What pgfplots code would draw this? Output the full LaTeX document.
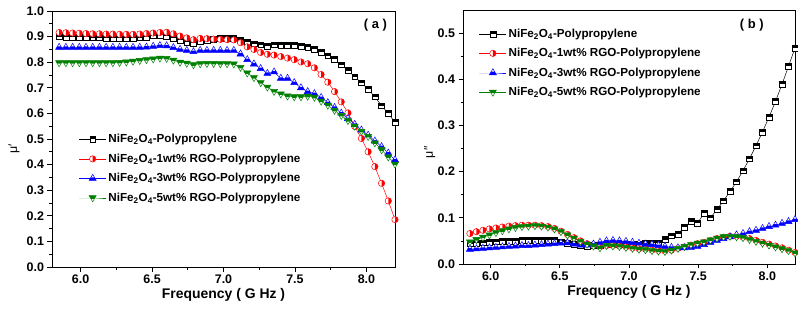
\documentclass[border=0pt]{standalone}
\usepackage{pgfplots}
\pgfplotsset{compat=1.18}
\usepackage{pgfplotstable}
\usepackage{fontspec}
\setmainfont{Liberation Sans}

\definecolor{cblack}{RGB}{0,0,0}
\definecolor{cred}{RGB}{255,0,0}
\definecolor{cblue}{RGB}{0,0,255}
\definecolor{cgreen}{RGB}{0,128,0}

% half-filled marks
\pgfdeclareplotmark{hsq}{%
  \begin{pgfscope}\pgfsetfillcolor{white}%
  \pgfpathrectangle{\pgfqpoint{-\pgfplotmarksize}{-\pgfplotmarksize}}{\pgfqpoint{2\pgfplotmarksize}{2\pgfplotmarksize}}\pgfusepathqfill\end{pgfscope}%
  \pgfpathrectangle{\pgfqpoint{-\pgfplotmarksize}{0pt}}{\pgfqpoint{2\pgfplotmarksize}{\pgfplotmarksize}}\pgfusepathqfill
  \pgfpathrectangle{\pgfqpoint{-\pgfplotmarksize}{-\pgfplotmarksize}}{\pgfqpoint{2\pgfplotmarksize}{2\pgfplotmarksize}}\pgfusepathqstroke
}
\pgfdeclareplotmark{hcirc}{%
  \begin{pgfscope}\pgfsetfillcolor{white}%
  \pgfpathcircle{\pgfpointorigin}{\pgfplotmarksize}\pgfusepathqfill\end{pgfscope}%
  \pgfpathmoveto{\pgfqpoint{0pt}{\pgfplotmarksize}}%
  \pgfpatharc{90}{-90}{\pgfplotmarksize}%
  \pgfpathclose\pgfusepathqfill
  \pgfpathcircle{\pgfpointorigin}{\pgfplotmarksize}\pgfusepathqstroke
}
\pgfdeclareplotmark{htri}{%
  \begin{pgfscope}\pgfsetfillcolor{white}%
  \pgfpathmoveto{\pgfqpoint{0pt}{1.4\pgfplotmarksize}}%
  \pgfpathlineto{\pgfqpoint{-1.2124\pgfplotmarksize}{-0.7\pgfplotmarksize}}%
  \pgfpathlineto{\pgfqpoint{1.2124\pgfplotmarksize}{-0.7\pgfplotmarksize}}%
  \pgfpathclose\pgfusepathqfill\end{pgfscope}%
  \pgfpathmoveto{\pgfqpoint{-1.2124\pgfplotmarksize}{-0.7\pgfplotmarksize}}%
  \pgfpathlineto{\pgfqpoint{1.2124\pgfplotmarksize}{-0.7\pgfplotmarksize}}%
  \pgfpathlineto{\pgfqpoint{0.6062\pgfplotmarksize}{0.35\pgfplotmarksize}}%
  \pgfpathlineto{\pgfqpoint{-0.6062\pgfplotmarksize}{0.35\pgfplotmarksize}}%
  \pgfpathclose\pgfusepathqfill
  \pgfpathmoveto{\pgfqpoint{0pt}{1.4\pgfplotmarksize}}%
  \pgfpathlineto{\pgfqpoint{-1.2124\pgfplotmarksize}{-0.7\pgfplotmarksize}}%
  \pgfpathlineto{\pgfqpoint{1.2124\pgfplotmarksize}{-0.7\pgfplotmarksize}}%
  \pgfpathclose\pgfusepathqstroke
}
\pgfdeclareplotmark{htrid}{%
  \begin{pgfscope}\pgfsetfillcolor{white}%
  \pgfpathmoveto{\pgfqpoint{0pt}{-1.4\pgfplotmarksize}}%
  \pgfpathlineto{\pgfqpoint{-1.2124\pgfplotmarksize}{0.7\pgfplotmarksize}}%
  \pgfpathlineto{\pgfqpoint{1.2124\pgfplotmarksize}{0.7\pgfplotmarksize}}%
  \pgfpathclose\pgfusepathqfill\end{pgfscope}%
  \pgfpathmoveto{\pgfqpoint{-1.2124\pgfplotmarksize}{0.7\pgfplotmarksize}}%
  \pgfpathlineto{\pgfqpoint{1.2124\pgfplotmarksize}{0.7\pgfplotmarksize}}%
  \pgfpathlineto{\pgfqpoint{0.6062\pgfplotmarksize}{-0.35\pgfplotmarksize}}%
  \pgfpathlineto{\pgfqpoint{-0.6062\pgfplotmarksize}{-0.35\pgfplotmarksize}}%
  \pgfpathclose\pgfusepathqfill
  \pgfpathmoveto{\pgfqpoint{0pt}{-1.4\pgfplotmarksize}}%
  \pgfpathlineto{\pgfqpoint{-1.2124\pgfplotmarksize}{0.7\pgfplotmarksize}}%
  \pgfpathlineto{\pgfqpoint{1.2124\pgfplotmarksize}{0.7\pgfplotmarksize}}%
  \pgfpathclose\pgfusepathqstroke
}

% mu' : f, NiFe2O4-PP, 1wt%, 3wt%, 5wt%
\pgfplotstableread{
f a b c d
5.850 0.900 0.916 0.858 0.798
5.897 0.899 0.915 0.858 0.798
5.944 0.898 0.914 0.858 0.798
5.991 0.897 0.913 0.858 0.798
6.038 0.897 0.912 0.858 0.798
6.085 0.896 0.911 0.858 0.798
6.132 0.896 0.911 0.858 0.798
6.179 0.895 0.910 0.858 0.798
6.226 0.895 0.910 0.858 0.798
6.273 0.895 0.909 0.858 0.799
6.320 0.895 0.909 0.858 0.801
6.367 0.895 0.909 0.858 0.804
6.414 0.896 0.910 0.858 0.807
6.461 0.899 0.912 0.859 0.810
6.508 0.903 0.914 0.862 0.813
6.555 0.906 0.916 0.865 0.816
6.602 0.902 0.917 0.864 0.815
6.649 0.894 0.911 0.857 0.808
6.696 0.885 0.902 0.850 0.800
6.743 0.879 0.895 0.846 0.796
6.790 0.874 0.888 0.841 0.790
6.837 0.881 0.893 0.846 0.794
6.884 0.886 0.892 0.846 0.795
6.931 0.890 0.890 0.846 0.795
6.978 0.893 0.889 0.846 0.794
7.025 0.895 0.888 0.846 0.794
7.072 0.893 0.887 0.846 0.793
7.119 0.887 0.876 0.832 0.780
7.166 0.879 0.860 0.810 0.758
7.213 0.872 0.850 0.793 0.740
7.260 0.868 0.838 0.775 0.720
7.307 0.862 0.831 0.756 0.703
7.354 0.868 0.828 0.762 0.686
7.401 0.867 0.822 0.737 0.676
7.448 0.866 0.816 0.737 0.668
7.495 0.866 0.810 0.720 0.665
7.542 0.862 0.801 0.700 0.665
7.589 0.859 0.794 0.685 0.667
7.636 0.852 0.778 0.677 0.663
7.683 0.840 0.752 0.662 0.648
7.730 0.825 0.722 0.642 0.632
7.777 0.811 0.685 0.623 0.612
7.824 0.790 0.645 0.601 0.592
7.871 0.767 0.602 0.580 0.572
7.918 0.743 0.549 0.557 0.550
7.965 0.720 0.502 0.535 0.530
8.012 0.694 0.450 0.515 0.510
8.059 0.665 0.392 0.492 0.485
8.106 0.630 0.327 0.470 0.458
8.153 0.600 0.258 0.445 0.430
8.200 0.565 0.185 0.418 0.402
}\tabA

% mu''
\pgfplotstableread{
f a b c d
5.850 0.044 0.066 0.032 0.048
5.897 0.045 0.070 0.033 0.053
5.944 0.046 0.073 0.034 0.058
5.991 0.047 0.076 0.035 0.063
6.038 0.048 0.078 0.036 0.068
6.085 0.049 0.080 0.037 0.072
6.132 0.050 0.082 0.038 0.076
6.179 0.050 0.083 0.039 0.079
6.226 0.051 0.084 0.040 0.081
6.273 0.051 0.084 0.040 0.082
6.320 0.052 0.084 0.041 0.083
6.367 0.052 0.083 0.042 0.082
6.414 0.052 0.081 0.043 0.080
6.461 0.051 0.077 0.044 0.076
6.508 0.048 0.071 0.045 0.070
6.555 0.045 0.064 0.046 0.063
6.602 0.042 0.057 0.043 0.056
6.649 0.040 0.050 0.041 0.049
6.696 0.039 0.044 0.041 0.043
6.743 0.040 0.040 0.043 0.039
6.790 0.041 0.037 0.047 0.035
6.837 0.042 0.040 0.050 0.040
6.884 0.042 0.040 0.051 0.039
6.931 0.042 0.039 0.050 0.038
6.978 0.042 0.037 0.049 0.036
7.025 0.042 0.035 0.047 0.034
7.072 0.043 0.033 0.045 0.032
7.119 0.045 0.032 0.043 0.031
7.166 0.045 0.030 0.042 0.029
7.213 0.046 0.029 0.040 0.028
7.260 0.053 0.028 0.038 0.027
7.307 0.061 0.030 0.036 0.030
7.354 0.065 0.034 0.035 0.034
7.401 0.080 0.037 0.035 0.038
7.448 0.092 0.041 0.036 0.042
7.495 0.088 0.044 0.038 0.045
7.542 0.110 0.047 0.042 0.048
7.589 0.100 0.051 0.047 0.052
7.636 0.118 0.055 0.051 0.056
7.683 0.137 0.058 0.055 0.059
7.730 0.157 0.060 0.059 0.060
7.777 0.178 0.060 0.063 0.059
7.824 0.202 0.058 0.066 0.057
7.871 0.228 0.055 0.070 0.053
7.918 0.256 0.051 0.073 0.049
7.965 0.286 0.047 0.077 0.045
8.012 0.318 0.043 0.081 0.041
8.059 0.352 0.039 0.084 0.037
8.106 0.389 0.035 0.088 0.033
8.153 0.428 0.030 0.092 0.029
8.200 0.468 0.025 0.096 0.024
}\tabB

\pgfplotsset{
  panel/.style={
    scale only axis,
    xmin=5.8, xmax=8.2, ymin=0,
    xtick={6,6.5,7,7.5,8}, minor x tick num=1, minor y tick num=1,
    tick align=outside, tick pos=left,
    major tick length=4.5bp, minor tick length=2.5bp,
    axis line style={line width=0.9bp},
    every tick/.style={black, line width=0.8bp},
    ticklabel style={font=\bfseries\fontsize{12.5}{14}\selectfont},
    xticklabel style={/pgf/number format/.cd, fixed, fixed zerofill, precision=1, assume math mode=true},
    yticklabel style={/pgf/number format/.cd, fixed, fixed zerofill, precision=1, assume math mode=true},
    xlabel={Frequency ( G Hz )},
    xlabel style={font=\bfseries\fontsize{14}{16}\selectfont, at={(axis description cs:0.5,0)}, anchor=north, yshift=-18bp},
    ylabel style={font=\fontsize{12.5}{14}\selectfont, anchor=center},
    legend cell align=left,
    legend style={draw=none, fill=none, font=\bfseries\fontsize{11.7}{13}\selectfont, row sep=5.5bp, anchor=north west, inner sep=1bp},
    legend image code/.code={\draw[mark repeat=2, mark phase=2, #1] plot coordinates {(0bp,0bp) (13.5bp,0bp) (27bp,0bp)};},
  },
  sblack/.style={cblack, line width=0.5bp, mark=hsq, mark size=2.9bp, mark options={solid, draw=cblack, fill=cblack, line width=0.5bp}},
  sred/.style={cred, line width=0.5bp, mark=hcirc, mark size=3.2bp, mark options={solid, draw=cred, fill=cred, line width=0.5bp}},
  sblue/.style={cblue, line width=0.5bp, mark=htri, mark size=2.9bp, mark options={solid, draw=cblue, fill=cblue, line width=0.5bp}},
  sgreen/.style={cgreen, line width=0.5bp, mark=htrid, mark size=2.9bp, mark options={solid, draw=cgreen, fill=cgreen, line width=0.5bp}},
}

\begin{document}
\begin{tikzpicture}
\useasboundingbox (0,0) rectangle (798bp,314bp);
\begin{axis}[panel,
  at={(52bp,47bp)}, anchor=south west,
  width=343bp, height=256bp,
  ymax=1.0, ytick={0,0.1,...,1.0},
  ylabel={μ′},
  ylabel style={at={(axis description cs:-0.111,0.46)}},
  legend style={at={(axis description cs:0.075,0.53)}},
]
\addplot[sblack] table[x=f, y=a] {\tabA};
\addlegendentry{NiFe\textsubscript{2}O\textsubscript{4}-Polypropylene}
\addplot[sred] table[x=f, y=b] {\tabA};
\addlegendentry{NiFe\textsubscript{2}O\textsubscript{4}-1wt\% RGO-Polypropylene}
\addplot[sblue] table[x=f, y=c] {\tabA};
\addlegendentry{NiFe\textsubscript{2}O\textsubscript{4}-3wt\% RGO-Polypropylene}
\addplot[sgreen] table[x=f, y=d] {\tabA};
\addlegendentry{NiFe\textsubscript{2}O\textsubscript{4}-5wt\% RGO-Polypropylene}
\node[font=\bfseries\fontsize{13}{15}\selectfont] at (axis description cs:0.943,0.945) {( a )};
\end{axis}

\begin{axis}[panel,
  at={(463bp,50bp)}, anchor=south west,
  width=332bp, height=254bp,
  ymax=0.55, ytick={0,0.1,...,0.5},
  ylabel={μ″},
  ylabel style={at={(axis description cs:-0.1,0.44)}},
  legend style={at={(axis description cs:0.045,0.938)}},
]
\addplot[sblack] table[x=f, y=a] {\tabB};
\addlegendentry{NiFe\textsubscript{2}O\textsubscript{4}-Polypropylene}
\addplot[sred] table[x=f, y=b] {\tabB};
\addlegendentry{NiFe\textsubscript{2}O\textsubscript{4}-1wt\% RGO-Polypropylene}
\addplot[sblue] table[x=f, y=c] {\tabB};
\addlegendentry{NiFe\textsubscript{2}O\textsubscript{4}-3wt\% RGO-Polypropylene}
\addplot[sgreen] table[x=f, y=d] {\tabB};
\addlegendentry{NiFe\textsubscript{2}O\textsubscript{4}-5wt\% RGO-Polypropylene}
\node[font=\bfseries\fontsize{13}{15}\selectfont] at (axis description cs:0.87,0.94) {( b )};
\end{axis}
\end{tikzpicture}
\end{document}
